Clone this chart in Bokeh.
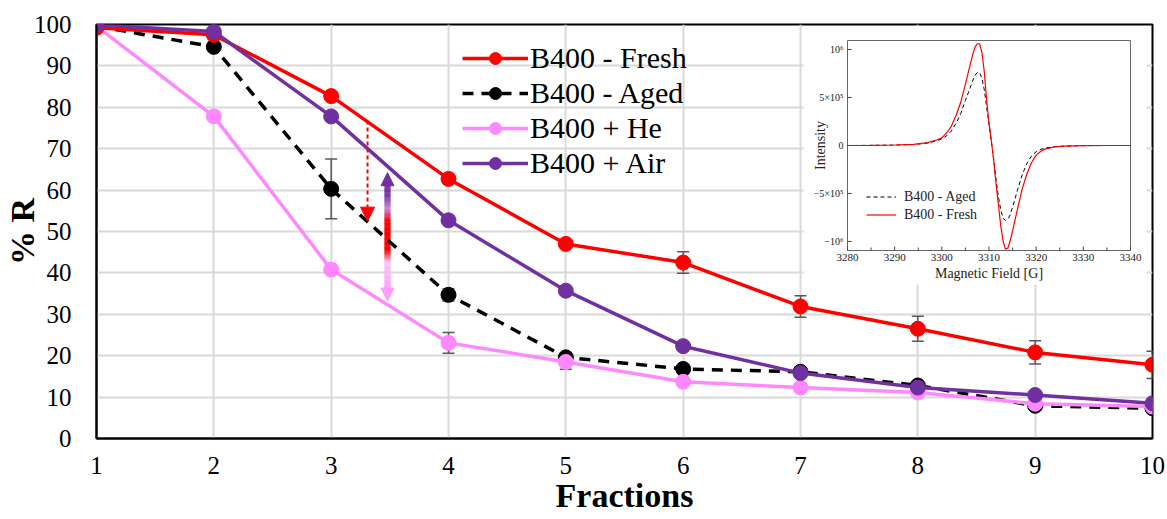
import numpy as np
from bokeh.plotting import figure
from bokeh.models import (ColumnDataSource, Whisker, TeeHead, Legend, LegendItem,
                          Arrow, NormalHead, FixedTicker, Range1d)
from bokeh.core.properties import value
from bokeh.embed import file_html
from bokeh.resources import INLINE

# ---------------- data: main chart ----------------
fractions = [1, 2, 3, 4, 5, 6, 7, 8, 9, 10]
fresh = [99.2, 97.5, 82.7, 62.7, 47.0, 42.5, 31.9, 26.5, 20.8, 17.8]
aged = [99.6, 94.6, 60.3, 34.7, 19.6, 16.8, 16.1, 12.8, 7.9, 7.3]
he = [99.6, 77.8, 40.8, 23.1, 18.5, 13.7, 12.3, 11.1, 8.4, 7.7]
air = [99.9, 98.3, 77.8, 52.7, 35.7, 22.3, 15.8, 12.3, 10.5, 8.5]

fresh_err = [0, 0, 0, 0, 0, 2.6, 2.6, 3.0, 2.8, 3.3]
aged_err = [0, 0, 7.2, 1.5, 0, 0, 0, 0, 0, 0]
he_err = [0, 0, 0, 2.5, 1.8, 0, 0, 0, 0, 0]

y_ticks = [0, 10, 20, 30, 40, 50, 60, 70, 80, 90, 100]

# ---------------- data: inset EPR spectrum ----------------
field_G = [3280, 3285, 3290, 3294, 3297, 3299,
           3300, 3301, 3302, 3303, 3304, 3305, 3306,
           3306.5, 3307, 3307.5, 3308, 3308.5, 3309, 3309.5, 3310, 3310.5, 3311,
           3311.5, 3312, 3312.5, 3313, 3313.5, 3314, 3314.5, 3315, 3315.5, 3316,
           3317, 3318, 3319, 3320, 3321, 3322,
           3324, 3326, 3330, 3335, 3340]
epr_fresh_e6 = [0, 0.002, 0.005, 0.012, 0.03, 0.06,
                0.08, 0.13, 0.2, 0.31, 0.45, 0.64, 0.84,
                0.94, 1.02, 1.06, 1.06, 0.97, 0.77, 0.47, 0.24, 0.05, -0.16,
                -0.40, -0.62, -0.84, -1.0, -1.08, -1.07, -0.99, -0.89, -0.78, -0.67,
                -0.46, -0.3, -0.18, -0.1, -0.06, -0.035,
                -0.015, -0.007, -0.002, 0, 0]
epr_aged_e6 = [0, 0.002, 0.004, 0.01, 0.025, 0.05,
               0.07, 0.1, 0.15, 0.23, 0.33, 0.47, 0.6,
               0.67, 0.73, 0.76, 0.76, 0.7, 0.58, 0.40, 0.22, 0.04, -0.14,
               -0.36, -0.54, -0.67, -0.76, -0.78, -0.77, -0.72, -0.64, -0.56, -0.47,
               -0.31, -0.19, -0.11, -0.065, -0.04, -0.025,
               -0.012, -0.006, -0.002, 0, 0]
epr_fresh = [v * 1e6 for v in epr_fresh_e6]
epr_aged = [v * 1e6 for v in epr_aged_e6]
inset_x_ticks = [3280, 3290, 3300, 3310, 3320, 3330, 3340]
inset_x_minor = [3285, 3295, 3305, 3315, 3325, 3335]
inset_y_ticks = [-1000000, -500000, 0, 500000, 1000000]
inset_y_labels = ["\u221210\u2076", "\u22125\u00d710\u2075", "0", "5\u00d710\u2075", "10\u2076"]
inset_x_range = (3280, 3340)
inset_y_range = (-1.094e6, 1.094e6)

SERIF = "Liberation Serif"
RED = "#ff0000"
BLACK = "#000000"
PINK = "#ff88ff"
PURPLE = "#7030a0"
GRID = "#d9d9d9"

# ---------------- layout geometry (pixels) ----------------
W, H = 1166, 519
FR_L, FR_R, FR_T, FR_B = 96, 1152, 24, 438          # main plot frame
IN_L, IN_R, IN_T, IN_B = 847, 1130, 40, 250         # inset plot box
gpp = (inset_x_range[1] - inset_x_range[0]) / (IN_R - IN_L)
ipp = (inset_y_range[1] - inset_y_range[0]) / (IN_B - IN_T)
g_start = inset_x_range[0] - (IN_L - FR_L) * gpp
g_end = inset_x_range[1] + (FR_R - IN_R) * gpp
i_top = inset_y_range[1] + (IN_T - FR_T) * ipp
i_bot = inset_y_range[0] - (FR_B - IN_B) * ipp

def px2g(px):
    return g_start + (px - FR_L) * gpp

def px2i(py):
    return i_top - (py - FR_T) * ipp

# ---------------- main figure ----------------
p = figure(width=W, height=H, x_range=Range1d(1, 10), y_range=Range1d(0, 100),
           output_backend="svg", toolbar_location=None,
           min_border_left=FR_L, min_border_right=W - FR_R, min_border_top=FR_T,
           min_border_bottom=H - FR_B)
p.extra_x_ranges = {"G": Range1d(g_start, g_end)}
p.extra_y_ranges = {"I": Range1d(i_bot, i_top)}
p.background_fill_color = "white"
p.border_fill_color = "white"
p.outline_line_color = "black"
p.outline_line_width = 2

p.xaxis.ticker = FixedTicker(ticks=fractions)
p.yaxis.ticker = FixedTicker(ticks=y_ticks)
for ax in (p.xaxis[0], p.yaxis[0]):
    ax.axis_line_color = "black"
    ax.axis_line_width = 2
    ax.major_tick_line_color = None
    ax.minor_tick_line_color = None
    ax.major_label_text_font = SERIF
    ax.major_label_text_font_size = "25px"
    ax.major_label_text_color = "black"
    ax.axis_label_text_font = SERIF
    ax.axis_label_text_font_style = "bold"
    ax.axis_label_text_color = "black"
p.xaxis.major_label_standoff = 12
p.yaxis.major_label_standoff = 19
p.xaxis.axis_label = "Fractions"
p.xaxis.axis_label_text_font_size = "34px"
p.xaxis.axis_label_standoff = 0
p.yaxis.axis_label = "% R"
p.yaxis.axis_label_text_font_size = "34px"
p.yaxis.axis_label_standoff = -10

p.xgrid.grid_line_color = GRID
p.xgrid.grid_line_width = 2
p.ygrid.grid_line_color = GRID
p.ygrid.grid_line_width = 2

# ---------------- inset (drawn on extra ranges G / I) ----------------
GI = dict(x_range_name="G", y_range_name="I")
p.quad(left=[px2g(803)], right=[px2g(1146)], bottom=[px2i(284)], top=[px2i(26)],
       fill_color="white", line_color=None, **GI)
p.quad(left=[inset_x_range[0]], right=[inset_x_range[1]],
       bottom=[inset_y_range[0]], top=[inset_y_range[1]],
       fill_color="white", line_color="#666666", line_width=1, **GI)
# ticks (inward)
p.segment(x0=inset_x_ticks, x1=inset_x_ticks,
          y0=[inset_y_range[0]] * len(inset_x_ticks),
          y1=[inset_y_range[0] + 4 * ipp] * len(inset_x_ticks),
          line_color="#444444", line_width=1, **GI)
p.segment(x0=inset_x_minor, x1=inset_x_minor,
          y0=[inset_y_range[0]] * len(inset_x_minor),
          y1=[inset_y_range[0] + 3 * ipp] * len(inset_x_minor),
          line_color="#444444", line_width=1, **GI)
p.segment(x0=[inset_x_range[0]] * len(inset_y_ticks),
          x1=[inset_x_range[0] + 4 * gpp] * len(inset_y_ticks),
          y0=inset_y_ticks, y1=inset_y_ticks,
          line_color="#444444", line_width=1, **GI)
# tick labels
p.text(x=inset_x_ticks, y=[px2i(IN_B + 3)] * len(inset_x_ticks),
       text=[str(t) for t in inset_x_ticks], text_align="center", text_baseline="top",
       text_font=value(SERIF), text_font_size="11px", text_color="#222222", **GI)
p.text(x=[px2g(IN_L - 4)] * len(inset_y_ticks), y=inset_y_ticks, text=inset_y_labels,
       text_align="right", text_baseline="middle",
       text_font=value(SERIF), text_font_size="10px", text_color="#222222", **GI)
p.text(x=[(inset_x_range[0] + inset_x_range[1]) / 2], y=[px2i(IN_B + 15)],
       text=["Magnetic Field [G]"], text_align="center", text_baseline="top",
       text_font=value(SERIF), text_font_size="14px", text_color="#222222", **GI)
p.text(x=[px2g(IN_L - 27)], y=[0], text=["Intensity"], angle=np.pi / 2,
       text_align="center", text_baseline="middle",
       text_font=value(SERIF), text_font_size="14px", text_color="#222222", **GI)
qa = p.line(field_G, epr_aged, line_color="black", line_width=1, line_dash="4 3", **GI)
qf = p.line(field_G, epr_fresh, line_color=RED, line_width=1.2, **GI)

# ---------------- error bars ----------------
def add_err(ys, errs):
    xs = [x for x, e in zip(fractions, errs) if e > 0]
    up = [y + e for y, e in zip(ys, errs) if e > 0]
    lo = [y - e for y, e in zip(ys, errs) if e > 0]
    src = ColumnDataSource(dict(x=xs, upper=up, lower=lo))
    w = Whisker(source=src, base="x", upper="upper", lower="lower",
                line_color="#595959", line_width=1.5,
                upper_head=TeeHead(size=12, line_color="#595959", line_width=1.5),
                lower_head=TeeHead(size=12, line_color="#595959", line_width=1.5))
    p.add_layout(w)

add_err(fresh, fresh_err)
add_err(aged, aged_err)
add_err(he, he_err)

# ---------------- annotation arrows ----------------
red_arrow_x = 3.31
red_arrow_y = (76.8, 52.5)
p.add_layout(Arrow(end=NormalHead(size=14, fill_color=RED, line_color=RED, line_width=1),
                   x_start=red_arrow_x, y_start=red_arrow_y[0],
                   x_end=red_arrow_x, y_end=red_arrow_y[1],
                   line_color=RED, line_width=2, line_dash="4 3"))

grad_x = 3.48
grad_stops_y = [62.0, 58.5, 55.5, 52.5, 45.5, 42.5, 35.5]
grad_stops_c = ["#7030a0", "#7a3aa8", "#c88ad8", "#ff0000", "#ff0000", "#f8c4f2", "#ff9cff"]

def hex2rgb(h):
    return np.array([int(h[i:i + 2], 16) for i in (1, 3, 5)], dtype=float)

rgbs = [hex2rgb(c) for c in grad_stops_c]
step = 0.2
centers = np.arange(grad_stops_y[0] - step / 2, grad_stops_y[-1], -step)
seg_c = []
for ym in centers:
    c = rgbs[-1]
    for k in range(len(grad_stops_y) - 1):
        if grad_stops_y[k] >= ym >= grad_stops_y[k + 1]:
            t = (grad_stops_y[k] - ym) / (grad_stops_y[k] - grad_stops_y[k + 1])
            c = rgbs[k] * (1 - t) + rgbs[k + 1] * t
            break
    seg_c.append("#%02x%02x%02x" % tuple(int(round(v)) for v in c))
p.rect(x=[grad_x] * len(centers), y=list(centers), width=6, height=step * 1.6,
       width_units="screen", fill_color=seg_c, line_color=None)
p.add_layout(Arrow(end=NormalHead(size=13, fill_color=PURPLE, line_color=PURPLE),
                   x_start=grad_x, y_start=61.5, x_end=grad_x, y_end=64.2,
                   line_color=PURPLE, line_width=6, line_cap="butt"))
p.add_layout(Arrow(end=NormalHead(size=13, fill_color="#ff9cff", line_color="#ff9cff"),
                   x_start=grad_x, y_start=36.0, x_end=grad_x, y_end=33.2,
                   line_color="#ff9cff", line_width=6, line_cap="butt"))

# ---------------- series (draw order: aged, he, fresh, air) ----------------
ra_l = p.line(fractions, aged, line_color=BLACK, line_width=3.5, line_dash="11 8")
ra_p = p.scatter(fractions, aged, size=15, fill_color=BLACK, line_color=BLACK)
rh_l = p.line(fractions, he, line_color=PINK, line_width=3.5)
rh_p = p.scatter(fractions, he, size=15, fill_color=PINK, line_color=PINK)
rf_l = p.line(fractions, fresh, line_color=RED, line_width=3.5)
rf_p = p.scatter(fractions, fresh, size=15, fill_color=RED, line_color=RED)
rr_l = p.line(fractions, air, line_color=PURPLE, line_width=3.5)
rr_p = p.scatter(fractions, air, size=15, fill_color=PURPLE, line_color=PURPLE)

leg = Legend(items=[LegendItem(label="B400 - Fresh", renderers=[rf_l, rf_p]),
                    LegendItem(label="B400 - Aged", renderers=[ra_l, ra_p]),
                    LegendItem(label="B400 + He", renderers=[rh_l, rh_p]),
                    LegendItem(label="B400 + Air", renderers=[rr_l, rr_p])],
             location=(366, 258), glyph_width=66, glyph_height=30, label_height=30,
             spacing=1, padding=0, margin=0, label_standoff=2,
             label_text_font=SERIF, label_text_font_size="30px", label_text_color="black",
             background_fill_alpha=0, border_line_alpha=0)
p.add_layout(leg)

qleg = Legend(items=[LegendItem(label="B400 - Aged", renderers=[qa]),
                     LegendItem(label="B400 - Fresh", renderers=[qf])],
              location=(866 - FR_L, FR_B - 223), glyph_width=30, glyph_height=17,
              label_height=17, spacing=1, padding=0, margin=0, label_standoff=8,
              label_text_font=SERIF, label_text_font_size="14px", label_text_color="#222222",
              background_fill_alpha=0, border_line_alpha=0)
p.add_layout(qleg)

open("out.html", "w").write(file_html(p, INLINE))
